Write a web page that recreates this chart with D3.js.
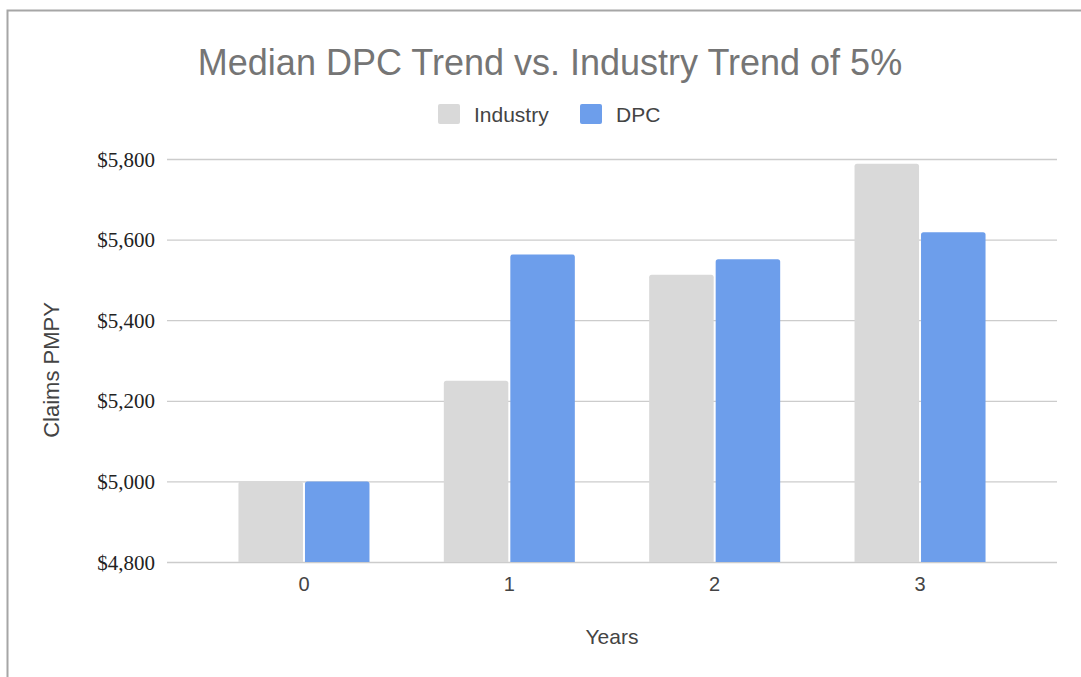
<!DOCTYPE html>
<meta charset="utf-8">
<script src="https://d3js.org/d3.v7.min.js"></script>
<style>
  body { margin: 0; background: #fff; }
</style>
<div id="my_dataviz"></div>
<script>

// data
var years = ["0", "1", "2", "3"];
var industry = [5000, 5250, 5512.5, 5788];
var dpc = [5000, 5563, 5551, 5618];
var seriesNames = ["Industry", "DPC"];
var yTicks = [4800, 5000, 5200, 5400, 5600, 5800];

var W = 1081, H = 677;
var margin = {top: 159, right: 24, bottom: 115, left: 167};
var sans = "'Liberation Sans', Arial, sans-serif";

var svg = d3.select("#my_dataviz")
  .append("svg")
    .attr("width", W)
    .attr("height", H);

// outer frame (top and left edges only visible)
svg.append("path")
  .attr("d", "M7.5,677 L7.5,10.5 L1081,10.5")
  .attr("fill", "none")
  .attr("stroke", "#a6a6a6")
  .attr("stroke-width", 2);

var color = d3.scaleOrdinal()
  .domain(seriesNames)
  .range(["#d9d9d9", "#6d9eeb"]);

// x scales
var x = d3.scaleBand()
  .domain(years)
  .range([margin.left, W - margin.right])
  .paddingInner(0.362)
  .paddingOuter(0.348);

var xSub = d3.scaleBand()
  .domain(seriesNames)
  .range([0, x.bandwidth()])
  .paddingInner(0.03);

// y scale
var y = d3.scaleLinear()
  .domain([4800, 5800])
  .range([H - margin.bottom, margin.top]);

// gridlines
svg.append("g")
  .attr("transform", "translate(" + margin.left + ",0)")
  .call(d3.axisLeft(y).tickValues(yTicks).tickSize(-(W - margin.right - margin.left)).tickFormat(""))
  .call(function(g) { g.select(".domain").remove(); })
  .selectAll("line")
    .attr("stroke", "#cccccc")
    .attr("stroke-width", 1.3);

// y tick labels
svg.append("g")
  .selectAll("text")
  .data(yTicks)
  .enter()
  .append("text")
    .attr("x", 155)
    .attr("y", function(d) { return y(d); })
    .attr("dy", "0.36em")
    .attr("text-anchor", "end")
    .style("font-family", "'Liberation Serif', 'Times New Roman', serif")
    .style("font-size", "21px")
    .style("fill", "#222")
    .text(function(d) { return "$" + d3.format(",")(d); });

// bars
var rows = years.map(function(yr, i) {
  return {year: yr, values: [{key: "Industry", v: industry[i]}, {key: "DPC", v: dpc[i]}]};
});

function topRounded(x0, y0, w, h, r) {
  return "M" + x0 + "," + (y0 + h) +
    "V" + (y0 + r) +
    "Q" + x0 + "," + y0 + " " + (x0 + r) + "," + y0 +
    "H" + (x0 + w - r) +
    "Q" + (x0 + w) + "," + y0 + " " + (x0 + w) + "," + (y0 + r) +
    "V" + (y0 + h) + "Z";
}

svg.append("g")
  .selectAll("g")
  .data(rows)
  .enter()
  .append("g")
    .attr("transform", function(d) { return "translate(" + x(d.year) + ",0)"; })
  .selectAll("path")
  .data(function(d) { return d.values; })
  .enter()
  .append("path")
    .attr("d", function(d) {
      return topRounded(xSub(d.key), y(d.v), xSub.bandwidth(), y(4800) - y(d.v), 2.5);
    })
    .style("fill", function(d) { return color(d.key); });

// x tick labels
svg.append("g")
  .selectAll("text")
  .data(years)
  .enter()
  .append("text")
    .attr("x", function(d) { return x(d) + x.bandwidth() / 2; })
    .attr("y", 591)
    .attr("text-anchor", "middle")
    .style("font-family", sans)
    .style("font-size", "20px")
    .style("fill", "#444")
    .text(function(d) { return d; });

// axis titles
svg.append("text")
  .attr("x", 612)
  .attr("y", 644)
  .attr("text-anchor", "middle")
  .style("font-family", sans)
  .style("font-size", "21px")
  .style("fill", "#444")
  .text("Years");

svg.append("text")
  .attr("transform", "translate(59,370) rotate(-90)")
  .attr("text-anchor", "middle")
  .style("font-family", sans)
  .style("font-size", "22px")
  .style("fill", "#444")
  .text("Claims PMPY");

// title
svg.append("text")
  .attr("x", 550)
  .attr("y", 75)
  .attr("text-anchor", "middle")
  .style("font-family", sans)
  .style("font-size", "36px")
  .style("fill", "#757575")
  .text("Median DPC Trend vs. Industry Trend of 5%");

// legend
var legendX = [438, 580];
var legend = svg.append("g")
  .selectAll("g")
  .data(seriesNames)
  .enter()
  .append("g")
    .attr("transform", function(d, i) { return "translate(" + legendX[i] + ",104)"; });

legend.append("rect")
  .attr("width", 22)
  .attr("height", 20)
  .attr("rx", 2)
  .style("fill", function(d) { return color(d); });

legend.append("text")
  .attr("x", 36)
  .attr("y", 18)
  .style("font-family", sans)
  .style("font-size", "21px")
  .style("fill", "#444")
  .text(function(d) { return d; });

</script>
